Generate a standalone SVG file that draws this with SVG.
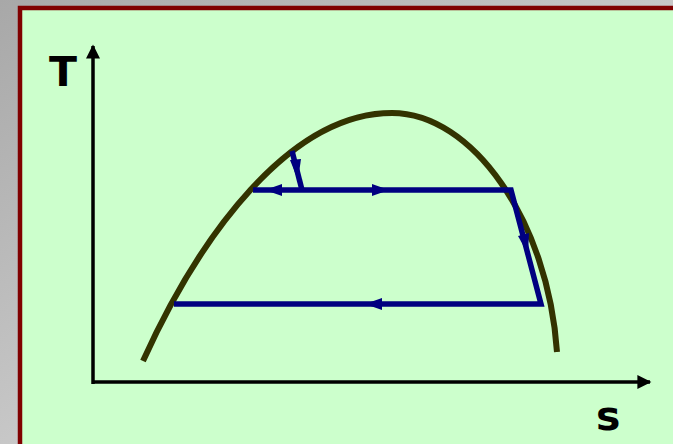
<svg xmlns="http://www.w3.org/2000/svg" width="673" height="444" viewBox="0 0 673 444">
<defs>
<linearGradient id="bg" x1="0" y1="0" x2="1" y2="1">
<stop offset="0" stop-color="#a8a8a8"/>
<stop offset="1" stop-color="#e6e6e6"/>
</linearGradient>
<marker id="ax" viewBox="0 0 10 10" refX="9" refY="5" markerWidth="4.5" markerHeight="4" orient="auto" markerUnits="strokeWidth">
<path d="M0,0 L10,5 L0,10 Z" fill="#000"/>
</marker>
</defs>
<style>
.axis{stroke:#000;stroke-width:3.5;fill:none}
.cyc{stroke:#000080;stroke-width:5.5;fill:none;stroke-linejoin:miter}
.ah{fill:#000080}
.lbl{font-family:"DejaVu Sans",sans-serif;font-weight:bold;font-size:41px;fill:#000}
</style>
<rect x="0" y="0" width="673" height="444" fill="url(#bg)"/>
<rect x="20" y="8" width="660" height="445" fill="#ccffcc" stroke="#800000" stroke-width="4.5"/>
<g id="axes">
<line class="axis" x1="93" y1="384" x2="93" y2="46" marker-end="url(#ax)"/>
<line class="axis" x1="92" y1="382" x2="650" y2="382" marker-end="url(#ax)"/>
</g>
<g id="labels">
<text class="lbl" x="49" y="86">T</text>
<text class="lbl" x="596" y="430">s</text>
</g>
<g id="dome">
<path d="M143,361 C200,235 290,113 392,113 C472,113 548,220 557,352" fill="none" stroke="#333300" stroke-width="6"/>
</g>
<g id="connectors">
<path class="cyc" d="M292,151 L302,190"/>
<path class="cyc" d="M253,190 L511,190 L541,304 L174,304"/>
<polygon class="ah" points="298,180 290,160 301,159"/>
<polygon class="ah" points="265,190 282,184 282,196"/>
<polygon class="ah" points="389,190 372,184 372,196"/>
<polygon class="ah" points="528,254 518,236 529,233"/>
<polygon class="ah" points="365,304 382,298 382,310"/>
</g>
</svg>
